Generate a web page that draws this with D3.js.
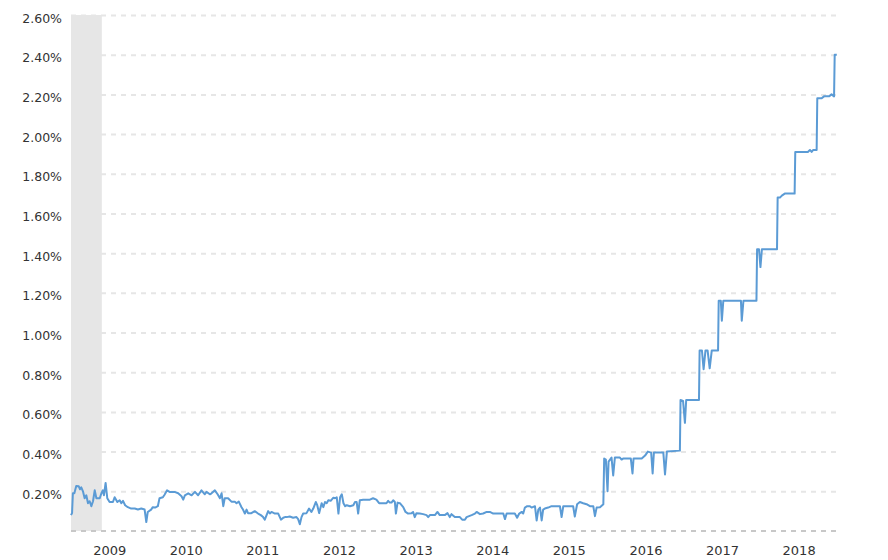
<!DOCTYPE html>
<html><head><meta charset="utf-8">
<script src="https://cdn.jsdelivr.net/npm/d3@7"></script>
<style>body{margin:0;background:#fff}svg{display:block;font-family:"DejaVu Sans",Verdana,sans-serif}</style>
</head><body><svg id="c" width="888" height="560"></svg>
<script>
const dates = [
"2009-01-01","2009-01-06","2009-01-10","2009-01-17","2009-01-26","2009-02-07","2009-02-13","2009-02-19","2009-02-27","2009-03-07",
"2009-03-15","2009-03-23","2009-03-31","2009-04-08","2009-04-16","2009-04-24","2009-05-02","2009-05-18","2009-05-26","2009-06-02",
"2009-06-07","2009-06-15","2009-06-23","2009-07-04","2009-07-20","2009-07-28","2009-08-10","2009-08-21","2009-08-29","2009-09-06",
"2009-09-16","2009-09-29","2009-10-15","2009-11-01","2009-11-16","2009-12-02","2009-12-18","2009-12-26","2010-01-02","2010-01-18",
"2010-01-26","2010-02-06","2010-02-19","2010-02-27","2010-03-15","2010-03-23","2010-04-04","2010-04-16","2010-05-10","2010-05-27",
"2010-06-12","2010-06-20","2010-06-28","2010-07-14","2010-07-30","2010-08-15","2010-08-30","2010-09-15","2010-10-01","2010-10-09",
"2010-10-25","2010-11-02","2010-11-18","2010-12-01","2010-12-12","2010-12-20","2010-12-28","2011-01-04","2011-01-20","2011-02-05",
"2011-02-21","2011-03-01","2011-03-12","2011-03-25","2011-04-01","2011-04-10","2011-04-18","2011-04-25","2011-05-11","2011-05-27",
"2011-06-12","2011-06-25","2011-07-06","2011-07-14","2011-07-30","2011-08-07","2011-08-15","2011-08-31","2011-09-16","2011-09-29",
"2011-10-10","2011-10-18","2011-10-26","2011-11-10","2011-11-26","2011-12-12","2011-12-20","2011-12-28","2012-01-05","2012-01-13",
"2012-01-29","2012-02-10","2012-02-21","2012-03-01","2012-03-13","2012-03-20","2012-03-29","2012-04-10","2012-04-18","2012-04-26",
"2012-05-04","2012-05-12","2012-05-23","2012-06-05","2012-06-13","2012-06-21","2012-06-29","2012-07-07","2012-07-15","2012-07-23",
"2012-07-31","2012-08-08","2012-08-23","2012-09-08","2012-09-16","2012-09-24","2012-10-01","2012-10-09","2012-10-25","2012-11-26",
"2012-12-11","2012-12-27","2013-01-09","2013-01-28","2013-02-13","2013-02-21","2013-03-01","2013-03-09","2013-03-17","2013-03-25",
"2013-03-30","2013-04-07","2013-04-18","2013-05-04","2013-05-15","2013-05-27","2013-06-13","2013-06-20","2013-06-28","2013-07-06",
"2013-07-22","2013-08-07","2013-08-23","2013-08-31","2013-09-08","2013-10-02","2013-10-14","2013-10-25","2013-11-18","2013-12-01",
"2013-12-12","2013-12-20","2014-01-05","2014-01-29","2014-02-09","2014-02-22","2014-03-02","2014-03-26","2014-04-11","2014-04-19",
"2014-05-05","2014-05-20","2014-06-06","2014-06-21","2014-07-07","2014-08-08","2014-08-24","2014-09-01","2014-09-09","2014-10-18",
"2014-10-29","2014-11-08","2014-11-20","2014-11-27","2014-12-05","2014-12-16","2014-12-29","2015-01-06","2015-01-22","2015-01-30",
"2015-02-07","2015-02-15","2015-02-23","2015-03-02","2015-03-10","2015-03-26","2015-04-11","2015-05-21","2015-05-29","2015-06-06",
"2015-07-23","2015-07-31","2015-08-11","2015-08-24","2015-09-09","2015-09-25","2015-10-11","2015-10-27","2015-11-04","2015-11-12",
"2015-11-28","2015-12-14","2015-12-18","2015-12-26","2016-01-03","2016-01-08","2016-01-22","2016-01-30","2016-02-07","2016-03-02",
"2016-03-10","2016-03-17","2016-04-23","2016-05-01","2016-05-06","2016-06-14","2016-06-30","2016-07-13","2016-07-29","2016-08-05",
"2016-08-11","2016-09-25","2016-10-03","2016-10-12","2016-12-13","2016-12-16","2016-12-28","2017-01-06","2017-01-12","2017-03-14",
"2017-03-17","2017-03-28","2017-04-05","2017-04-14","2017-04-24","2017-05-04","2017-05-14","2017-06-13","2017-06-16","2017-06-26",
"2017-07-01","2017-07-08","2017-09-30","2017-10-04","2017-10-12","2017-12-13","2017-12-16","2017-12-25","2018-01-01","2018-01-08",
"2018-03-21","2018-03-24","2018-04-04","2018-04-13","2018-04-27","2018-06-13","2018-06-16","2018-08-15","2018-08-25","2018-09-02",
"2018-09-10","2018-09-26","2018-09-29","2018-10-20","2018-10-31","2018-11-09","2018-11-24","2018-12-06","2018-12-18","2018-12-21",
"2018-12-31"
];
const rates = [
0.08,0.09,0.19,0.19,0.227,0.225,0.21,0.22,0.20,0.165,
0.18,0.14,0.15,0.125,0.15,0.205,0.165,0.165,0.19,0.205,
0.18,0.242,0.165,0.146,0.146,0.17,0.146,0.155,0.14,0.152,
0.13,0.12,0.113,0.113,0.108,0.113,0.108,0.045,0.096,0.108,
0.12,0.118,0.125,0.165,0.17,0.183,0.205,0.197,0.197,0.19,
0.175,0.158,0.18,0.19,0.18,0.197,0.18,0.205,0.185,0.197,
0.185,0.19,0.205,0.185,0.165,0.19,0.125,0.165,0.165,0.148,
0.148,0.14,0.148,0.12,0.108,0.088,0.108,0.09,0.09,0.10,
0.088,0.08,0.07,0.057,0.10,0.088,0.096,0.088,0.088,0.057,
0.067,0.07,0.07,0.073,0.067,0.07,0.06,0.034,0.07,0.088,
0.09,0.113,0.096,0.113,0.146,0.13,0.09,0.14,0.12,0.146,
0.14,0.155,0.152,0.168,0.165,0.17,0.088,0.17,0.185,0.14,
0.125,0.13,0.125,0.13,0.146,0.146,0.088,0.155,0.158,0.158,
0.165,0.158,0.14,0.14,0.14,0.152,0.143,0.143,0.155,0.146,
0.088,0.143,0.14,0.12,0.096,0.088,0.09,0.096,0.07,0.09,
0.088,0.085,0.08,0.07,0.08,0.08,0.096,0.08,0.08,0.09,
0.07,0.085,0.07,0.07,0.057,0.057,0.07,0.08,0.088,0.096,
0.085,0.088,0.096,0.096,0.088,0.088,0.088,0.06,0.088,0.088,
0.067,0.088,0.096,0.088,0.118,0.125,0.125,0.118,0.125,0.053,
0.108,0.118,0.053,0.108,0.113,0.118,0.125,0.125,0.07,0.125,
0.125,0.073,0.135,0.146,0.14,0.135,0.125,0.125,0.075,0.118,
0.12,0.135,0.365,0.36,0.20,0.35,0.37,0.28,0.37,0.37,
0.36,0.365,0.365,0.29,0.365,0.365,0.38,0.40,0.395,0.29,
0.395,0.395,0.285,0.40,0.405,0.66,0.655,0.545,0.66,0.66,
0.91,0.91,0.815,0.91,0.91,0.82,0.91,0.91,1.16,1.16,
1.06,1.16,1.16,1.06,1.16,1.16,1.42,1.42,1.33,1.42,
1.42,1.68,1.68,1.69,1.70,1.70,1.91,1.91,1.92,1.91,
1.92,1.92,2.18,2.18,2.19,2.19,2.19,2.20,2.19,2.40,
2.40
];
const yTickValues = [0.2,0.4,0.6,0.8,1.0,1.2,1.4,1.6,1.8,2.0,2.2,2.4,2.6];
const yearLabels = ["2009","2010","2011","2012","2013","2014","2015","2016","2017","2018"];
const recessionStart = "2009-01-01";
const recessionEnd = "2009-05-28";
const domainStart = "2009-01-01";
const domainEnd = "2019-01-01";

const parse = d3.utcParse("%Y-%m-%d");
const data = dates.map((d,i)=>({date:parse(d), v:rates[i]}));
const svg = d3.select("#c");
const L = 71, R = 837, T = 15, B = 531;
const x = d3.scaleUtc().domain([parse(domainStart), parse(domainEnd)]).range([L, R]);
const y = d3.scaleLinear().domain([0, 2.6]).range([B, T]);

svg.append("rect")
  .attr("x", x(parse(recessionStart)))
  .attr("y", T)
  .attr("width", x(parse(recessionEnd)) - x(parse(recessionStart)))
  .attr("height", B - T)
  .attr("fill", "#e6e6e6");

const yAxis = svg.append("g").attr("transform", `translate(${L},0)`)
  .call(d3.axisLeft(y).tickValues(yTickValues).tickSize(-(R - L)).tickPadding(9)
    .tickFormat(d => d.toFixed(2) + "%"));
yAxis.select(".domain").remove();
yAxis.selectAll(".tick line").attr("stroke", "#e6e6e6").attr("stroke-width", 2).attr("stroke-dasharray", "5,5");
yAxis.selectAll(".tick text").attr("fill", "#333").attr("font-size", 12.5).attr("dy", "7px")
  .attr("font-family", '"DejaVu Sans",Verdana,sans-serif');

svg.append("line").attr("x1", L).attr("x2", R).attr("y1", y(0)).attr("y2", y(0))
  .attr("stroke", "#c8c8c8").attr("stroke-width", 2).attr("stroke-dasharray", "5,5");

const xAxis = svg.append("g").attr("transform", `translate(0,${B})`)
  .call(d3.axisBottom(x).tickValues(yearLabels.map(yr => parse(yr + "-07-02"))).tickSize(0).tickPadding(15)
    .tickFormat(d => d3.utcFormat("%Y")(d)));
xAxis.select(".domain").remove();
xAxis.selectAll(".tick text").attr("fill", "#333").attr("font-size", 13)
  .attr("font-family", '"DejaVu Sans",Verdana,sans-serif');

svg.append("path").datum(data)
  .attr("fill", "none").attr("stroke", "#5b9bd5").attr("stroke-width", 2).attr("stroke-linejoin", "round")
  .attr("d", d3.line().x(d => x(d.date)).y(d => y(d.v)));
</script>
</body></html>
